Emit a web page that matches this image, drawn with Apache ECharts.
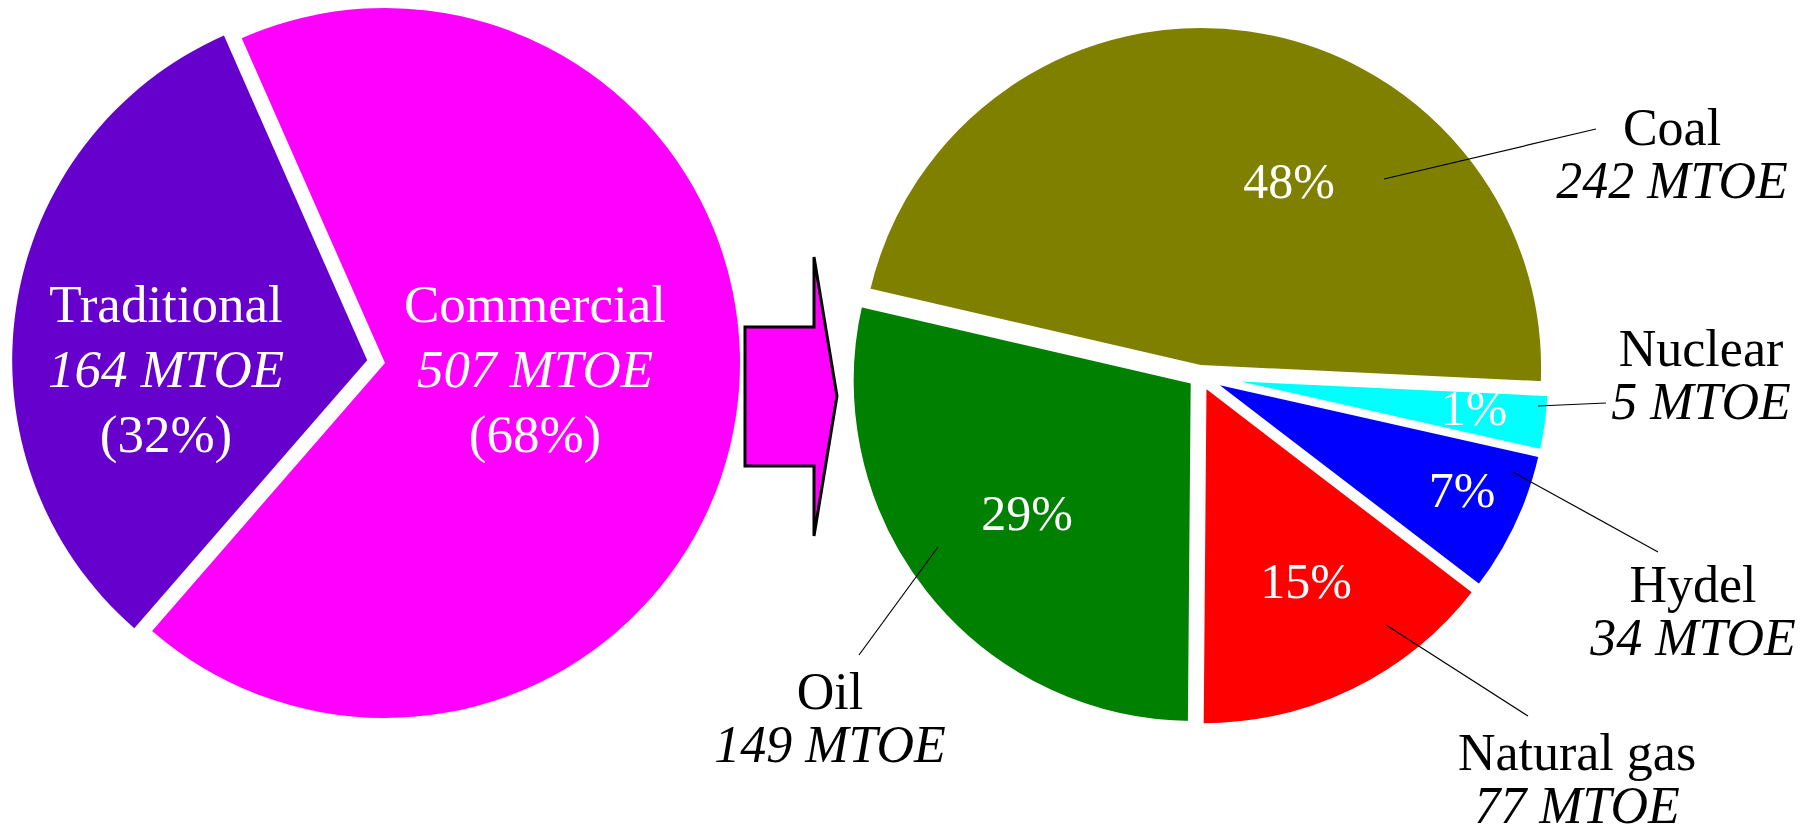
<!DOCTYPE html>
<html>
<head>
<meta charset="utf-8">
<script src="https://cdn.jsdelivr.net/npm/echarts@6/dist/echarts.min.js"></script>
<style>
html,body{margin:0;padding:0;background:#ffffff;}
#c{width:1818px;height:837px;}
</style>
</head>
<body>
<div id="c"></div>
<script>
// ---- data ----
const leftNames = ['Traditional', 'Commercial'];
const leftMtoe = [164, 507];
const leftShares = [32, 68];

const rightNames = ['Coal', 'Nuclear', 'Hydel', 'Natural gas', 'Oil'];
const rightMtoe = [242, 5, 34, 77, 149];
const rightShares = [48, 1, 7, 15, 29];

// ---- styles / layout ----
const leftColors = ['#6600CC', '#FF00FF'];
const rightColors = ['#808000', '#00FFFF', '#0000FF', '#FF0000', '#008000'];
const FONT = '"Liberation Serif", "Times New Roman", Times, serif';

const LEFT_CENTER = [385, 363];
const LEFT_R = 355;
const RIGHT_CENTER = [1200, 376];
const RIGHT_R = 343;
const RIGHT_START = 167;

const leftLabelPos = [[166, 369], [535, 369]];
const pctLabelPos = [[1289, 181], [1474, 408], [1462, 490], [1306, 581], [1027, 513]];
const nameLabelPos = [[1672, 154], [1701, 375], [1693, 611], [1577, 779], [830, 718]];
const guideLines = [
  [[1384, 179], [1596, 129]],
  [[1538, 406], [1606, 403]],
  [[1513, 472], [1658, 552]],
  [[1386, 625], [1528, 716]],
  [[938, 547], [859, 655]]
];

const chart = echarts.init(document.getElementById('c'), null, {renderer: 'svg'});

const leftSlices = leftNames.map((n, i) => ({
  name: n, value: leftShares[i], selected: i === 0,
  itemStyle: {color: leftColors[i]}
}));
const leftGhost = leftNames.map((n, i) => ({name: n, value: leftShares[i]}));
const rightSlices = rightNames.map((n, i) => ({
  name: n, value: rightShares[i], selected: true,
  itemStyle: {color: rightColors[i]}
}));
const rightGhost = rightNames.map((n, i) => ({name: n, value: rightShares[i]}));

const ghostBase = {
  type: 'pie', silent: true, avoidLabelOverlap: false, z: 5,
  emphasis: {disabled: true},
  itemStyle: {color: 'rgba(0,0,0,0)', borderWidth: 0}
};

chart.setOption({
  animation: false,
  backgroundColor: '#ffffff',
  graphic: [{
    type: 'polygon',
    shape: {points: [[745, 327], [814, 327], [814, 257], [837, 396], [814, 536], [814, 466], [745, 466]]},
    style: {fill: '#FF00FF', stroke: '#000000', lineWidth: 3, lineJoin: 'miter'},
    z: 10
  }],
  series: [
    // left pie slices
    {
      name: 'Total energy',
      type: 'pie',
      center: LEFT_CENTER, radius: LEFT_R,
      startAngle: 229, clockwise: true,
      selectedMode: 'single', selectedOffset: 18,
      avoidLabelOverlap: false,
      emphasis: {disabled: true},
      itemStyle: {borderWidth: 0},
      data: leftSlices,
      label: {show: false}, labelLine: {show: false}
    },
    // left pie labels
    Object.assign({}, ghostBase, {
      name: 'Total energy labels',
      center: LEFT_CENTER, radius: LEFT_R,
      startAngle: 229, clockwise: true,
      data: leftGhost,
      label: {
        show: true, position: 'inside',
        formatter: p => `{n|${leftNames[p.dataIndex]}}\n{v|${leftMtoe[p.dataIndex]} MTOE}\n{p|(${leftShares[p.dataIndex]}%)}`,
        rich: {
          n: {fontFamily: FONT, fontSize: 53, color: '#ffffff', lineHeight: 65, align: 'center'},
          v: {fontFamily: FONT, fontSize: 53, color: '#ffffff', lineHeight: 65, fontStyle: 'italic', align: 'center'},
          p: {fontFamily: FONT, fontSize: 53, color: '#ffffff', lineHeight: 65, align: 'center'}
        }
      },
      labelLine: {show: false},
      labelLayout: p => ({x: leftLabelPos[p.dataIndex][0], y: leftLabelPos[p.dataIndex][1], align: 'center', verticalAlign: 'middle'})
    }),
    // right pie slices
    {
      name: 'Commercial energy',
      type: 'pie',
      center: RIGHT_CENTER, radius: RIGHT_R,
      startAngle: RIGHT_START, clockwise: true,
      minAngle: 10,
      selectedMode: 'multiple', selectedOffset: 8,
      avoidLabelOverlap: false,
      emphasis: {disabled: true},
      itemStyle: {borderColor: '#ffffff', borderWidth: 6},
      data: rightSlices,
      label: {show: false}, labelLine: {show: false}
    },
    // right pie percentage labels
    Object.assign({}, ghostBase, {
      name: 'Share labels',
      center: RIGHT_CENTER, radius: RIGHT_R,
      startAngle: RIGHT_START, clockwise: true, minAngle: 10,
      data: rightGhost,
      label: {
        show: true, position: 'inside',
        formatter: p => rightShares[p.dataIndex] + '%',
        fontFamily: FONT, fontSize: 50, color: '#ffffff'
      },
      labelLine: {show: false},
      labelLayout: p => ({x: pctLabelPos[p.dataIndex][0], y: pctLabelPos[p.dataIndex][1], align: 'center', verticalAlign: 'middle'})
    }),
    // right pie name / MTOE labels with leader lines
    Object.assign({}, ghostBase, {
      name: 'Name labels',
      z: 6,
      center: RIGHT_CENTER, radius: RIGHT_R,
      startAngle: RIGHT_START, clockwise: true, minAngle: 10,
      data: rightGhost,
      label: {
        show: true, position: 'outside',
        formatter: p => `{n|${rightNames[p.dataIndex]}}\n{v|${rightMtoe[p.dataIndex]} MTOE}`,
        rich: {
          n: {fontFamily: FONT, fontSize: 52, color: '#000000', lineHeight: 53, align: 'center'},
          v: {fontFamily: FONT, fontSize: 52, color: '#000000', lineHeight: 53, fontStyle: 'italic', align: 'center'}
        }
      },
      labelLine: {show: true, smooth: false, lineStyle: {color: '#000000', width: 1.2}},
      labelLayout: p => ({
        x: nameLabelPos[p.dataIndex][0], y: nameLabelPos[p.dataIndex][1],
        align: 'center', verticalAlign: 'middle',
        labelLinePoints: guideLines[p.dataIndex]
      })
    })
  ]
});
</script>
</body>
</html>
